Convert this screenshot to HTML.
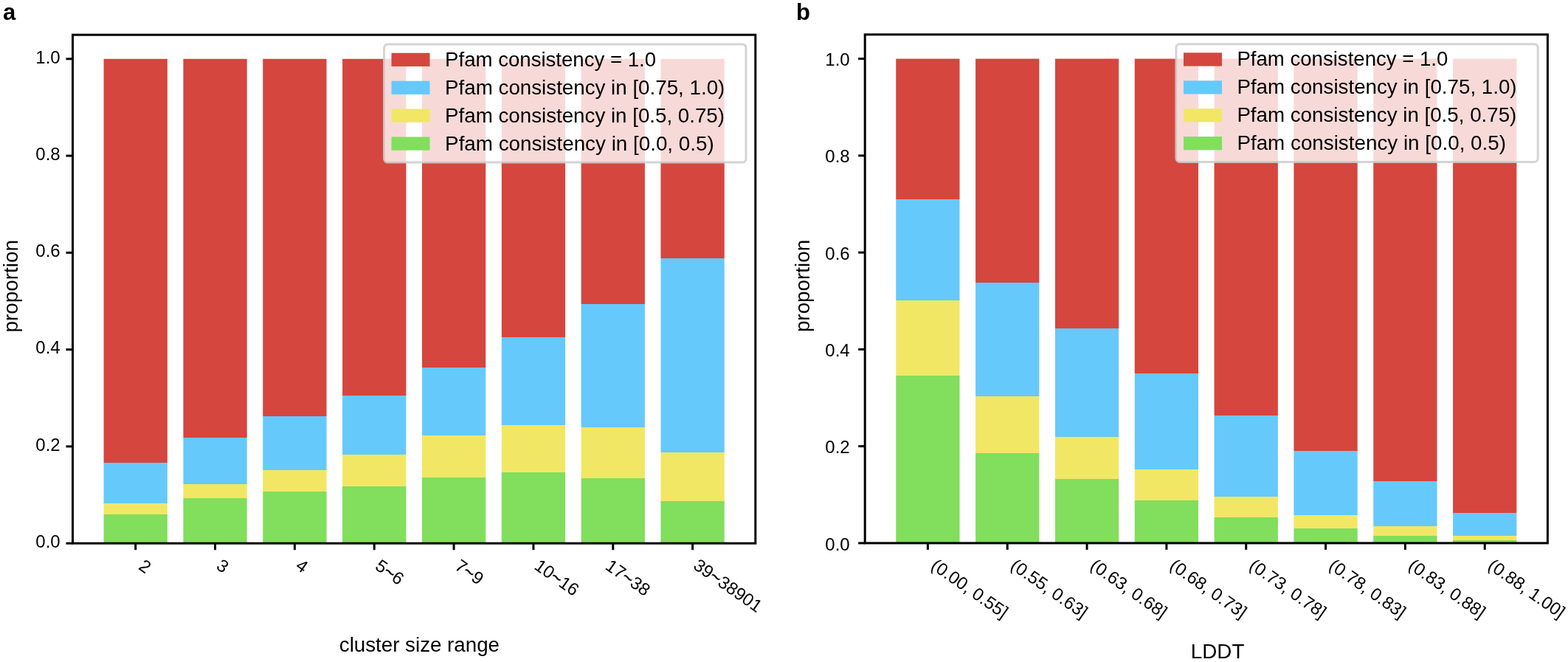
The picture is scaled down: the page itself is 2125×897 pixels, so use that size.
<!DOCTYPE html>
<html><head><meta charset="utf-8"><title>Pfam consistency vs cluster size and LDDT</title>
<style>html,body{margin:0;padding:0;background:#fff;overflow:hidden;} svg{display:block;}</style>
</head><body>
<svg width="2125" height="897" viewBox="0 0 2125 897" font-family="'Liberation Sans', Arial, Helvetica, sans-serif" fill="#000">
<rect x="0" y="0" width="2125" height="897" fill="#ffffff"/>
<g>
<rect x="140.56" y="697.00" width="86.28" height="39.20" fill="#82DE5D"/>
<rect x="140.56" y="682.00" width="86.28" height="15.00" fill="#F1E765"/>
<rect x="140.56" y="627.00" width="86.28" height="55.00" fill="#66C9FB"/>
<rect x="140.56" y="79.80" width="86.28" height="547.20" fill="#D5463E"/>
<rect x="248.40" y="675.00" width="86.28" height="61.20" fill="#82DE5D"/>
<rect x="248.40" y="656.00" width="86.28" height="19.00" fill="#F1E765"/>
<rect x="248.40" y="593.00" width="86.28" height="63.00" fill="#66C9FB"/>
<rect x="248.40" y="79.80" width="86.28" height="513.20" fill="#D5463E"/>
<rect x="356.25" y="666.00" width="86.28" height="70.20" fill="#82DE5D"/>
<rect x="356.25" y="637.00" width="86.28" height="29.00" fill="#F1E765"/>
<rect x="356.25" y="564.00" width="86.28" height="73.00" fill="#66C9FB"/>
<rect x="356.25" y="79.80" width="86.28" height="484.20" fill="#D5463E"/>
<rect x="464.09" y="659.00" width="86.28" height="77.20" fill="#82DE5D"/>
<rect x="464.09" y="616.00" width="86.28" height="43.00" fill="#F1E765"/>
<rect x="464.09" y="536.00" width="86.28" height="80.00" fill="#66C9FB"/>
<rect x="464.09" y="79.80" width="86.28" height="456.20" fill="#D5463E"/>
<rect x="571.93" y="647.00" width="86.28" height="89.20" fill="#82DE5D"/>
<rect x="571.93" y="590.00" width="86.28" height="57.00" fill="#F1E765"/>
<rect x="571.93" y="498.00" width="86.28" height="92.00" fill="#66C9FB"/>
<rect x="571.93" y="79.80" width="86.28" height="418.20" fill="#D5463E"/>
<rect x="679.78" y="640.00" width="86.28" height="96.20" fill="#82DE5D"/>
<rect x="679.78" y="576.00" width="86.28" height="64.00" fill="#F1E765"/>
<rect x="679.78" y="457.00" width="86.28" height="119.00" fill="#66C9FB"/>
<rect x="679.78" y="79.80" width="86.28" height="377.20" fill="#D5463E"/>
<rect x="787.62" y="648.00" width="86.28" height="88.20" fill="#82DE5D"/>
<rect x="787.62" y="579.00" width="86.28" height="69.00" fill="#F1E765"/>
<rect x="787.62" y="412.00" width="86.28" height="167.00" fill="#66C9FB"/>
<rect x="787.62" y="79.80" width="86.28" height="332.20" fill="#D5463E"/>
<rect x="895.47" y="679.00" width="86.28" height="57.20" fill="#82DE5D"/>
<rect x="895.47" y="613.00" width="86.28" height="66.00" fill="#F1E765"/>
<rect x="895.47" y="350.00" width="86.28" height="263.00" fill="#66C9FB"/>
<rect x="895.47" y="79.80" width="86.28" height="270.20" fill="#D5463E"/>
</g>
<rect x="98.50" y="47.20" width="925.30" height="689.00" fill="none" stroke="#000" stroke-width="3" stroke-linejoin="miter"/>
<line x1="89.50" y1="736.20" x2="98.50" y2="736.20" stroke="#000" stroke-width="3"/>
<text x="81.70" y="742.00" font-size="24" text-anchor="end">0.0</text>
<line x1="89.50" y1="604.92" x2="98.50" y2="604.92" stroke="#000" stroke-width="3"/>
<text x="81.70" y="610.72" font-size="24" text-anchor="end">0.2</text>
<line x1="89.50" y1="473.64" x2="98.50" y2="473.64" stroke="#000" stroke-width="3"/>
<text x="81.70" y="479.44" font-size="24" text-anchor="end">0.4</text>
<line x1="89.50" y1="342.36" x2="98.50" y2="342.36" stroke="#000" stroke-width="3"/>
<text x="81.70" y="348.16" font-size="24" text-anchor="end">0.6</text>
<line x1="89.50" y1="211.08" x2="98.50" y2="211.08" stroke="#000" stroke-width="3"/>
<text x="81.70" y="216.88" font-size="24" text-anchor="end">0.8</text>
<line x1="89.50" y1="79.80" x2="98.50" y2="79.80" stroke="#000" stroke-width="3"/>
<text x="81.70" y="85.60" font-size="24" text-anchor="end">1.0</text>
<line x1="183.70" y1="736.20" x2="183.70" y2="745.20" stroke="#000" stroke-width="3"/>
<text transform="translate(186.55,770.20) rotate(35)" font-size="23.8">2</text>
<line x1="291.54" y1="736.20" x2="291.54" y2="745.20" stroke="#000" stroke-width="3"/>
<text transform="translate(291.74,769.80) rotate(35)" font-size="23.8">3</text>
<line x1="399.38" y1="736.20" x2="399.38" y2="745.20" stroke="#000" stroke-width="3"/>
<text transform="translate(399.33,769.80) rotate(35)" font-size="23.8">4</text>
<line x1="507.23" y1="736.20" x2="507.23" y2="745.20" stroke="#000" stroke-width="3"/>
<text transform="translate(507.08,770.30) rotate(35)" font-size="23.8">5<tspan stroke="#000" stroke-width="0.5" stroke-linejoin="round">~</tspan>6</text>
<line x1="615.07" y1="736.20" x2="615.07" y2="745.20" stroke="#000" stroke-width="3"/>
<text transform="translate(614.92,770.15) rotate(35)" font-size="23.8">7<tspan stroke="#000" stroke-width="0.5" stroke-linejoin="round">~</tspan>9</text>
<line x1="722.92" y1="736.20" x2="722.92" y2="745.20" stroke="#000" stroke-width="3"/>
<text transform="translate(722.67,770.00) rotate(35)" font-size="23.8">10<tspan stroke="#000" stroke-width="0.5" stroke-linejoin="round">~</tspan>16</text>
<line x1="830.76" y1="736.20" x2="830.76" y2="745.20" stroke="#000" stroke-width="3"/>
<text transform="translate(819.11,770.20) rotate(35)" font-size="23.8">17<tspan stroke="#000" stroke-width="0.5" stroke-linejoin="round">~</tspan>38</text>
<line x1="938.60" y1="736.20" x2="938.60" y2="745.20" stroke="#000" stroke-width="3"/>
<text transform="translate(938.25,769.40) rotate(35)" font-size="23.8">39<tspan stroke="#000" stroke-width="0.5" stroke-linejoin="round">~</tspan>38901</text>
<text transform="translate(23.50,450.40) rotate(-90)" font-size="27.75" textLength="125.3" lengthAdjust="spacingAndGlyphs">proportion</text>
<text x="459.80" y="883.10" font-size="27.75" textLength="217.2" lengthAdjust="spacingAndGlyphs">cluster size range</text>
<text x="4.00" y="27.2" font-size="31" font-weight="bold">a</text>
<rect x="520.50" y="59.90" width="490.50" height="160.20" rx="5" ry="5" fill="#ffffff" fill-opacity="0.8" stroke="#cccccc" stroke-opacity="0.85" stroke-width="3"/>
<rect x="530.50" y="71.80" width="52" height="18.2" fill="#D5463E"/>
<text x="603.10" y="89.80" font-size="27.75" textLength="286.0" lengthAdjust="spacingAndGlyphs">Pfam consistency = 1.0</text>
<rect x="530.50" y="109.70" width="52" height="18.2" fill="#66C9FB"/>
<text x="603.10" y="127.73" font-size="27.75" textLength="379.2" lengthAdjust="spacingAndGlyphs">Pfam consistency in [0.75, 1.0)</text>
<rect x="530.50" y="147.60" width="52" height="18.2" fill="#F1E765"/>
<text x="603.10" y="165.66" font-size="27.75" textLength="378.9" lengthAdjust="spacingAndGlyphs">Pfam consistency in [0.5, 0.75)</text>
<rect x="530.50" y="185.50" width="52" height="18.2" fill="#82DE5D"/>
<text x="603.10" y="203.59" font-size="27.75" textLength="364.6" lengthAdjust="spacingAndGlyphs">Pfam consistency in [0.0, 0.5)</text>
<g>
<rect x="1214.25" y="509.00" width="86.27" height="226.90" fill="#82DE5D"/>
<rect x="1214.25" y="407.00" width="86.27" height="102.00" fill="#F1E765"/>
<rect x="1214.25" y="270.00" width="86.27" height="137.00" fill="#66C9FB"/>
<rect x="1214.25" y="79.60" width="86.27" height="190.40" fill="#D5463E"/>
<rect x="1322.09" y="614.00" width="86.27" height="121.90" fill="#82DE5D"/>
<rect x="1322.09" y="537.00" width="86.27" height="77.00" fill="#F1E765"/>
<rect x="1322.09" y="383.00" width="86.27" height="154.00" fill="#66C9FB"/>
<rect x="1322.09" y="79.60" width="86.27" height="303.40" fill="#D5463E"/>
<rect x="1429.92" y="649.00" width="86.27" height="86.90" fill="#82DE5D"/>
<rect x="1429.92" y="592.00" width="86.27" height="57.00" fill="#F1E765"/>
<rect x="1429.92" y="445.00" width="86.27" height="147.00" fill="#66C9FB"/>
<rect x="1429.92" y="79.60" width="86.27" height="365.40" fill="#D5463E"/>
<rect x="1537.75" y="678.00" width="86.27" height="57.90" fill="#82DE5D"/>
<rect x="1537.75" y="636.00" width="86.27" height="42.00" fill="#F1E765"/>
<rect x="1537.75" y="506.00" width="86.27" height="130.00" fill="#66C9FB"/>
<rect x="1537.75" y="79.60" width="86.27" height="426.40" fill="#D5463E"/>
<rect x="1645.58" y="701.00" width="86.27" height="34.90" fill="#82DE5D"/>
<rect x="1645.58" y="673.00" width="86.27" height="28.00" fill="#F1E765"/>
<rect x="1645.58" y="563.00" width="86.27" height="110.00" fill="#66C9FB"/>
<rect x="1645.58" y="79.60" width="86.27" height="483.40" fill="#D5463E"/>
<rect x="1753.42" y="716.00" width="86.27" height="19.90" fill="#82DE5D"/>
<rect x="1753.42" y="698.00" width="86.27" height="18.00" fill="#F1E765"/>
<rect x="1753.42" y="611.00" width="86.27" height="87.00" fill="#66C9FB"/>
<rect x="1753.42" y="79.60" width="86.27" height="531.40" fill="#D5463E"/>
<rect x="1861.25" y="726.00" width="86.27" height="9.90" fill="#82DE5D"/>
<rect x="1861.25" y="713.00" width="86.27" height="13.00" fill="#F1E765"/>
<rect x="1861.25" y="652.00" width="86.27" height="61.00" fill="#66C9FB"/>
<rect x="1861.25" y="79.60" width="86.27" height="572.40" fill="#D5463E"/>
<rect x="1969.08" y="732.00" width="86.27" height="3.90" fill="#82DE5D"/>
<rect x="1969.08" y="726.00" width="86.27" height="6.00" fill="#F1E765"/>
<rect x="1969.08" y="695.00" width="86.27" height="31.00" fill="#66C9FB"/>
<rect x="1969.08" y="79.60" width="86.27" height="615.40" fill="#D5463E"/>
</g>
<rect x="1172.20" y="46.80" width="925.20" height="689.10" fill="none" stroke="#000" stroke-width="3" stroke-linejoin="miter"/>
<line x1="1163.20" y1="735.90" x2="1172.20" y2="735.90" stroke="#000" stroke-width="3"/>
<text x="1151.70" y="745.50" font-size="24" text-anchor="end">0.0</text>
<line x1="1163.20" y1="604.64" x2="1172.20" y2="604.64" stroke="#000" stroke-width="3"/>
<text x="1151.70" y="614.24" font-size="24" text-anchor="end">0.2</text>
<line x1="1163.20" y1="473.38" x2="1172.20" y2="473.38" stroke="#000" stroke-width="3"/>
<text x="1151.70" y="482.98" font-size="24" text-anchor="end">0.4</text>
<line x1="1163.20" y1="342.12" x2="1172.20" y2="342.12" stroke="#000" stroke-width="3"/>
<text x="1151.70" y="351.72" font-size="24" text-anchor="end">0.6</text>
<line x1="1163.20" y1="210.86" x2="1172.20" y2="210.86" stroke="#000" stroke-width="3"/>
<text x="1151.70" y="220.46" font-size="24" text-anchor="end">0.8</text>
<line x1="1163.20" y1="79.60" x2="1172.20" y2="79.60" stroke="#000" stroke-width="3"/>
<text x="1151.70" y="89.20" font-size="24" text-anchor="end">1.0</text>
<line x1="1257.39" y1="735.90" x2="1257.39" y2="744.90" stroke="#000" stroke-width="3"/>
<text transform="translate(1260.24,769.60) rotate(35)" font-size="23.8">(0.00, 0.55]</text>
<line x1="1365.22" y1="735.90" x2="1365.22" y2="744.90" stroke="#000" stroke-width="3"/>
<text transform="translate(1368.07,769.60) rotate(35)" font-size="23.8">(0.55, 0.63]</text>
<line x1="1473.05" y1="735.90" x2="1473.05" y2="744.90" stroke="#000" stroke-width="3"/>
<text transform="translate(1475.90,769.60) rotate(35)" font-size="23.8">(0.63, 0.68]</text>
<line x1="1580.88" y1="735.90" x2="1580.88" y2="744.90" stroke="#000" stroke-width="3"/>
<text transform="translate(1583.73,769.60) rotate(35)" font-size="23.8">(0.68, 0.73]</text>
<line x1="1688.72" y1="735.90" x2="1688.72" y2="744.90" stroke="#000" stroke-width="3"/>
<text transform="translate(1691.57,769.60) rotate(35)" font-size="23.8">(0.73, 0.78]</text>
<line x1="1796.55" y1="735.90" x2="1796.55" y2="744.90" stroke="#000" stroke-width="3"/>
<text transform="translate(1799.40,769.60) rotate(35)" font-size="23.8">(0.78, 0.83]</text>
<line x1="1904.38" y1="735.90" x2="1904.38" y2="744.90" stroke="#000" stroke-width="3"/>
<text transform="translate(1907.23,769.60) rotate(35)" font-size="23.8">(0.83, 0.88]</text>
<line x1="2012.21" y1="735.90" x2="2012.21" y2="744.90" stroke="#000" stroke-width="3"/>
<text transform="translate(2015.06,769.60) rotate(35)" font-size="23.8">(0.88, 1.00]</text>
<text transform="translate(1097.30,450.10) rotate(-90)" font-size="27.75" textLength="125.3" lengthAdjust="spacingAndGlyphs">proportion</text>
<text x="1613.70" y="891.90" font-size="27.75" textLength="72.7" lengthAdjust="spacingAndGlyphs">LDDT</text>
<text x="1079.00" y="27.2" font-size="31" font-weight="bold">b</text>
<rect x="1593.90" y="59.70" width="490.30" height="159.70" rx="5" ry="5" fill="#ffffff" fill-opacity="0.8" stroke="#cccccc" stroke-opacity="0.85" stroke-width="3"/>
<rect x="1604.00" y="71.40" width="52" height="18.2" fill="#D5463E"/>
<text x="1676.40" y="88.70" font-size="27.75" textLength="286.0" lengthAdjust="spacingAndGlyphs">Pfam consistency = 1.0</text>
<rect x="1604.00" y="109.30" width="52" height="18.2" fill="#66C9FB"/>
<text x="1676.40" y="126.67" font-size="27.75" textLength="379.2" lengthAdjust="spacingAndGlyphs">Pfam consistency in [0.75, 1.0)</text>
<rect x="1604.00" y="147.20" width="52" height="18.2" fill="#F1E765"/>
<text x="1676.40" y="164.64" font-size="27.75" textLength="378.9" lengthAdjust="spacingAndGlyphs">Pfam consistency in [0.5, 0.75)</text>
<rect x="1604.00" y="185.10" width="52" height="18.2" fill="#82DE5D"/>
<text x="1676.40" y="202.61" font-size="27.75" textLength="364.6" lengthAdjust="spacingAndGlyphs">Pfam consistency in [0.0, 0.5)</text>
</svg>
</body></html>
